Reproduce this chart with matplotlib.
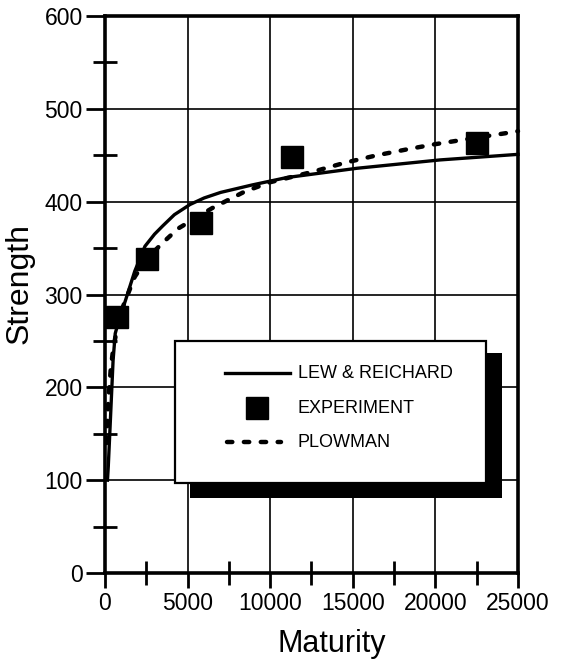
import matplotlib.pyplot as plt
from matplotlib.patches import Rectangle
from matplotlib.lines import Line2D
from matplotlib.ticker import MultipleLocator
from matplotlib import font_manager

# measured data
exp_maturity = [730, 2540, 5800, 11350, 22500]
exp_strength = [276, 338, 377, 448, 463]

# Lew & Reichard prediction
lr_maturity = [150, 200, 300, 490, 620, 900, 1210, 1800, 2420, 3000,
               3500, 4200, 5150, 6000, 7000, 8900, 11000, 15250, 20280,
               25000]
lr_strength = [100, 115, 154, 229, 258, 276, 292, 325, 352, 365,
               374, 386, 397, 404, 410, 418, 426, 436, 445, 451]

# Plowman prediction
pl_maturity = [100, 200, 350, 500, 750, 1000, 1800, 2500, 3450, 4420,
               6480, 8470, 10000, 12530, 14530, 16460, 18460, 20000,
               22500, 24330, 25000]
pl_strength = [140, 185, 220, 242, 265, 283, 319, 338, 355, 371,
               393, 411, 421, 432, 442, 450, 457, 462, 469, 474, 476]

legend_labels = ["LEW & REICHARD", "EXPERIMENT", "PLOWMAN"]

plt.rcParams['font.family'] = ['Liberation Sans', 'DejaVu Sans']

# narrow face for the legend, if one is around
names = {f.name for f in font_manager.fontManager.ttflist}
narrow = [n for n in ['Liberation Sans Narrow', 'DejaVu Sans Condensed']
          if n in names]
narrow_fp = dict(family=narrow + ['Liberation Sans'], fontsize=17)
if not narrow:
    narrow_fp['fontsize'] = 13

fig = plt.figure(figsize=(5.62, 6.60), dpi=100)
ax = fig.add_axes([0.1868, 0.1318, 0.7349, 0.8439])

ax.set_xlim(0, 25000)
ax.set_ylim(0, 600)
ax.xaxis.set_major_locator(MultipleLocator(5000))
ax.xaxis.set_minor_locator(MultipleLocator(2500))
ax.yaxis.set_major_locator(MultipleLocator(100))
ax.yaxis.set_minor_locator(MultipleLocator(50))

ax.grid(True, which='major', color='black', lw=1.2, zorder=1)
for s in ax.spines.values():
    s.set_linewidth(2.6)

ax.tick_params(which='major', direction='out', length=14, width=2,
               labelsize=16.5, pad=2)
ax.tick_params(axis='x', which='major', length=11, pad=3)
ax.tick_params(which='minor', direction='inout', length=17, width=2)

dash = dict(color='black', lw=3.2, dashes=[1.2, 2.6], dash_capstyle='round')
ax.plot(lr_maturity, lr_strength, color='black', lw=2.4, zorder=3,
        clip_on=False)
ax.plot(pl_maturity, pl_strength, zorder=3, clip_on=False, **dash)
ax.plot(exp_maturity, exp_strength, ls='none', marker='s', ms=16.5,
        color='black', zorder=4)

ax.set_xlabel("Maturity", fontsize=22)
ax.set_ylabel("Strength", fontsize=23)
ax.xaxis.set_label_coords(0.55, -0.1)
ax.yaxis.set_label_coords(-0.17, 0.52)

# legend box with drop shadow
ax.add_patch(Rectangle((0.206, 0.135), 0.755, 0.26, transform=ax.transAxes,
                       facecolor='black', edgecolor='none', zorder=5))
ax.add_patch(Rectangle((0.169, 0.162), 0.753, 0.255, transform=ax.transAxes,
                       facecolor='white', edgecolor='black', lw=1.6,
                       zorder=6))

rows = [0.359, 0.296, 0.235]
ax.add_line(Line2D([0.29, 0.448], [rows[0]] * 2, transform=ax.transAxes,
                   color='black', lw=2.4, zorder=7))
ax.add_line(Line2D([0.369], [rows[1]], transform=ax.transAxes, marker='s',
                   ms=16.5, color='black', zorder=7))
ax.add_line(Line2D([0.295, 0.425], [rows[2]] * 2, transform=ax.transAxes,
                   zorder=7, **dash))
for y, lab in zip(rows, legend_labels):
    ax.text(0.467, y, lab, transform=ax.transAxes, va='center', ha='left',
            zorder=8, **narrow_fp)

fig.savefig("out.png", dpi=100)
